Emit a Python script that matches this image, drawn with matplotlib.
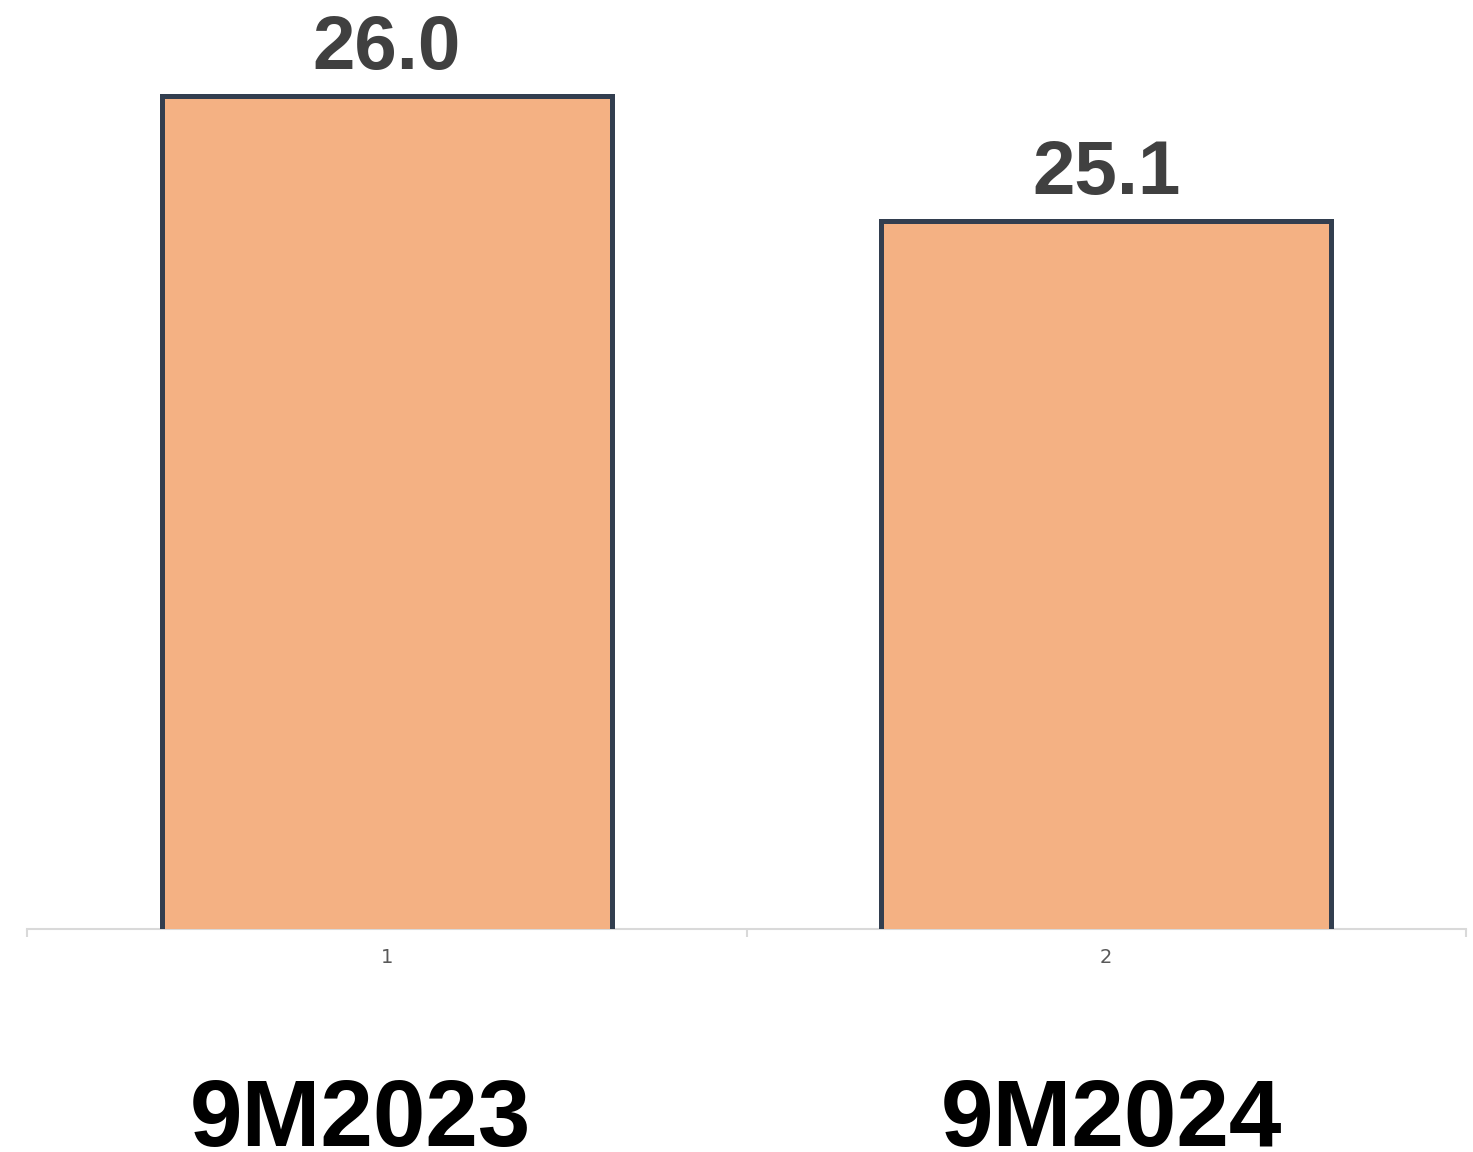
import matplotlib
matplotlib.use('Agg')
import matplotlib.pyplot as plt
import matplotlib.transforms as mtransforms

plt.rcParams['font.family'] = ['Liberation Sans', 'DejaVu Sans']

positions = [1, 2]
tick_labels = ['1', '2']
periods = ['9M2023', '9M2024']
values = [26.0, 25.1]

fig = plt.figure(figsize=(14.73, 11.52), dpi=100)
ax = fig.add_axes([27 / 1473, 223 / 1152, 1439 / 1473, 929 / 1152])

ax.bar(positions, values, width=0.625, bottom=0,
       color='#F4B183', edgecolor='#323E4F', linewidth=3.6, zorder=3)
ax.set_xlim(0.5, 2.5)
ax.set_ylim(20, 26.69)

for x, v in zip(positions, values):
    ax.text(x, v + 0.19, f'{v:.1f}', ha='center', va='baseline',
            fontsize=55, fontweight='bold', color='#404040')

# category names below the axis
trans = mtransforms.blended_transform_factory(ax.transData, fig.transFigure)
for x, name, dx in zip(positions, periods, [-0.037, 0.007]):
    ax.text(x + dx, 0.005, name, transform=trans, ha='center', va='baseline',
            fontsize=68, fontweight='bold', color='black')

for s in ['top', 'left', 'right']:
    ax.spines[s].set_visible(False)
ax.spines['bottom'].set_color('#D9D9D9')
ax.spines['bottom'].set_linewidth(1.5)
ax.spines['bottom'].set_zorder(2)

ax.set_yticks([])
ax.set_xticks(positions)
ax.set_xticklabels(tick_labels, fontsize=14, color='#595959', family='DejaVu Sans')
ax.tick_params(axis='x', which='major', length=0, pad=14)
ax.set_xticks([0.5, 1.5, 2.5], minor=True)
ax.tick_params(axis='x', which='minor', length=6, width=1.5, color='#D9D9D9')

fig.savefig('out.png', dpi=100)
